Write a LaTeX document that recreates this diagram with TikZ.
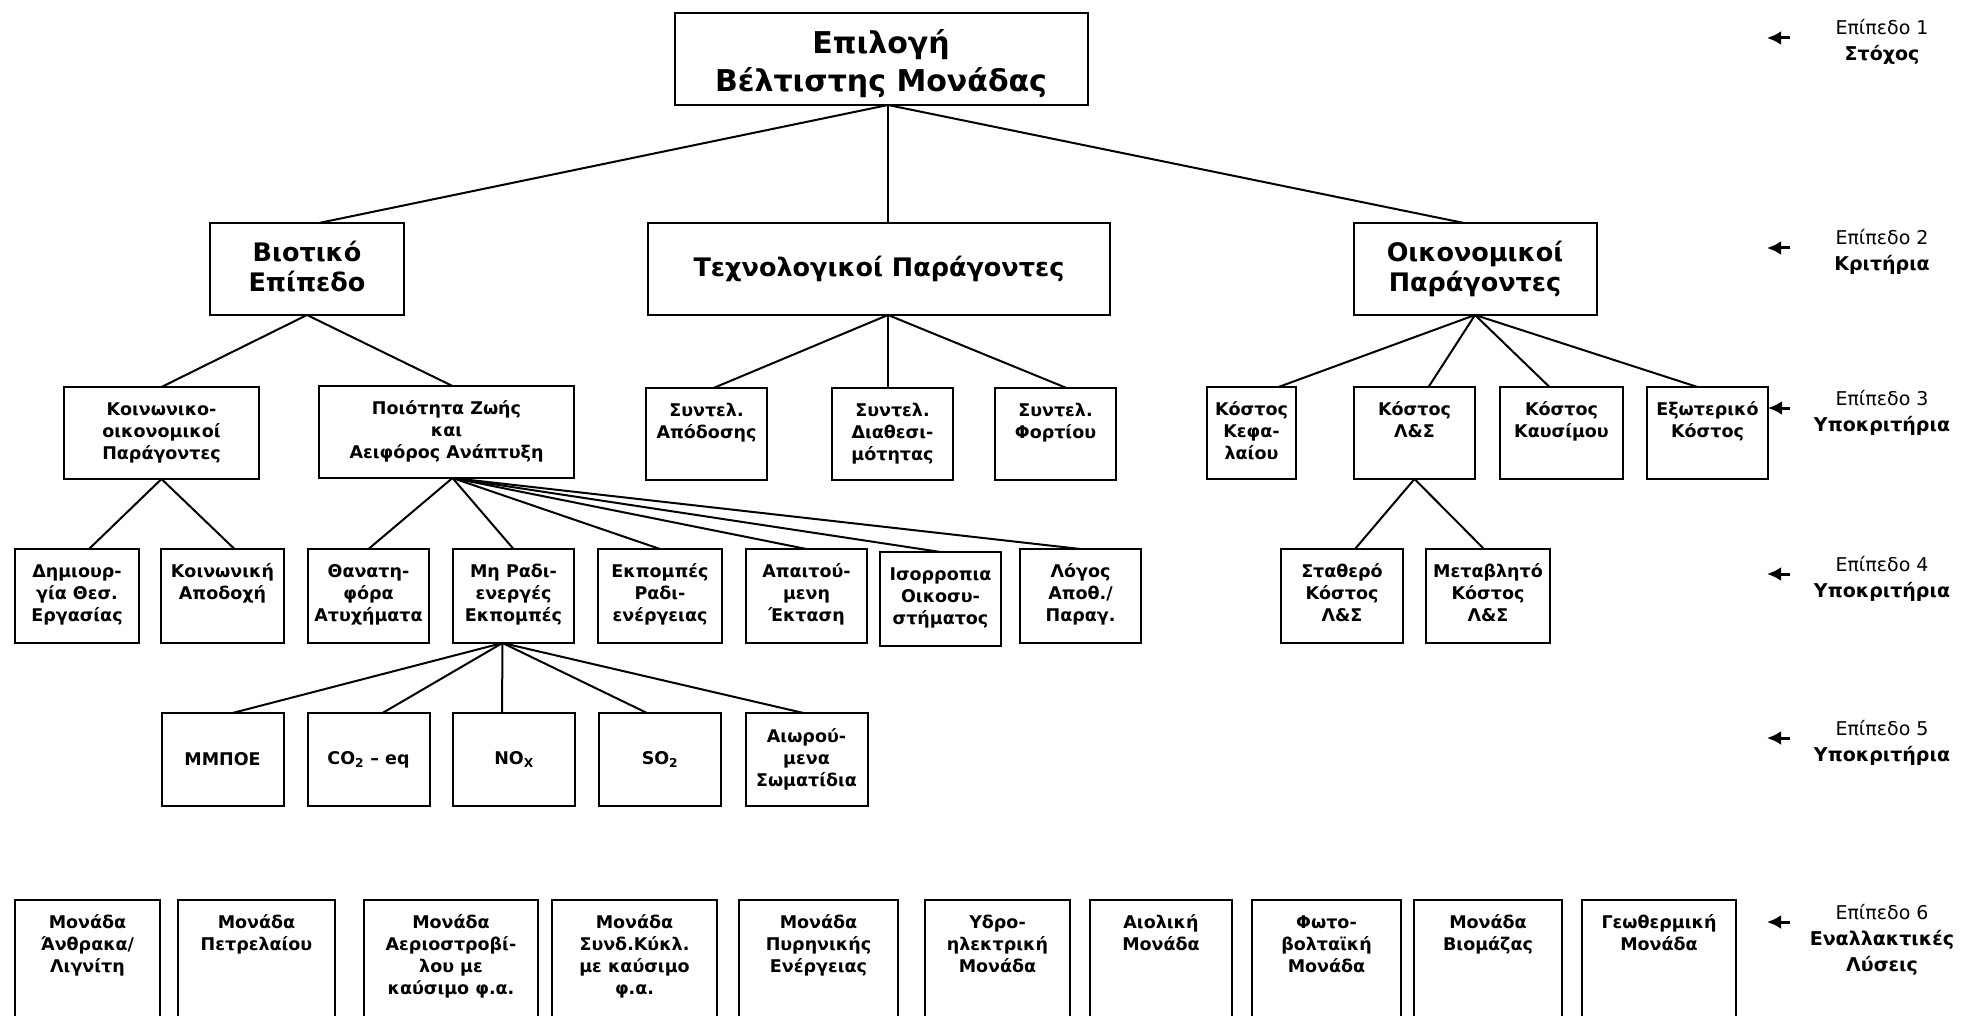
\documentclass[tikz,border=0pt]{standalone}
\usepackage{fontspec}
\setmainfont{DejaVu Sans}
\usepackage{tikz}
\usetikzlibrary{arrows.meta,calc}

% lines of a box, first line on the baseline
\newcommand{\rows}[1]{\begin{tabular}[t]{@{}c@{}}#1\end{tabular}}

\tikzset{
  box/.style={draw, line width=2pt, align=center, anchor=north, outer sep=0pt, inner xsep=2pt},
  goalbox/.style={box, font=\bfseries\fontsize{30}{38}\selectfont, inner ysep=0pt, text height=79pt, text depth=13pt},
  critbox/.style={box, font=\bfseries\fontsize{25.5}{29}\selectfont, minimum height=92pt},
  twoline/.style={inner ysep=0pt, text height=68pt, text depth=24pt},
  subbox/.style={box, font=\bfseries\fontsize{17.5}{22}\selectfont, text height=13pt, inner ysep=15pt},
  midbox/.style={box, font=\bfseries\fontsize{17.5}{22}\selectfont, minimum height=93pt, minimum width=122pt},
  lvl/.style={font=\fontsize{19}{26}\selectfont, anchor=base},
  lvlarrow/.style={line width=3pt, -{Latex[length=14pt,width=14pt]}},
  link/.style={line width=2pt}
}

\begin{document}
\begin{tikzpicture}[x=1pt,y=-1pt]
    \useasboundingbox (0,0) rectangle (1962,1016);

    % Level 1
    \node[goalbox, minimum width=413] (goal) at (881,13) {Επιλογή\\Βέλτιστης Μονάδας};

    % Level 2
    \node[critbox, twoline, minimum width=194] (bio) at (307,223) {Βιοτικό\\Επίπεδο};
    \node[critbox, minimum width=462] (tech) at (879,223) {Τεχνολογικοί Παράγοντες};
    \node[critbox, twoline, minimum width=243] (econ) at (1475,223) {Οικονομικοί\\Παράγοντες};

    % Level 3
    \node[subbox, minimum width=195, text depth=49pt] (koin) at (161.5,387) {\rows{Κοινωνικο-\\οικονομικοί\\Παράγοντες}};
    \node[subbox, minimum width=255, text depth=49pt] (zoi) at (446.5,386) {\rows{Ποιότητα Ζωής\\και\\Αειφόρος Ανάπτυξη}};
    \node[subbox, minimum width=121, text depth=49pt] (apod) at (706.5,388) {\rows{Συντελ.\\Απόδοσης}};
    \node[subbox, minimum width=121, text depth=49pt] (diath) at (892.5,388) {\rows{Συντελ.\\Διαθεσι-\\μότητας}};
    \node[subbox, minimum width=121, text depth=49pt] (fort) at (1055.5,388) {\rows{Συντελ.\\Φορτίου}};
    \node[subbox, minimum width=89, text depth=49pt] (kef) at (1251.5,387) {\rows{Κόστος\\Κεφα-\\λαίου}};
    \node[subbox, minimum width=121, text depth=49pt] (ls) at (1414.5,387) {\rows{Κόστος\\Λ\&Σ}};
    \node[subbox, minimum width=123, text depth=49pt] (kaus) at (1561.5,387) {\rows{Κόστος\\Καυσίμου}};
    \node[subbox, minimum width=121, text depth=49pt] (exot) at (1707.5,387) {\rows{Εξωτερικό\\Κόστος}};

    % Level 4
    \node[subbox, minimum width=124, text depth=51pt] (erg) at (77,549) {\rows{Δημιουρ-\\γία Θεσ.\\Εργασίας}};
    \node[subbox, minimum width=123, text depth=51pt] (apodoxi) at (222.5,549) {\rows{Κοινωνική\\Αποδοχή}};
    \node[subbox, minimum width=121, text depth=51pt] (atyx) at (368.5,549) {\rows{Θανατη-\\φόρα\\Ατυχήματα}};
    \node[subbox, minimum width=121, text depth=51pt] (mirad) at (513.5,549) {\rows{Μη Ραδι-\\ενεργές\\Εκπομπές}};
    \node[subbox, minimum width=124, text depth=51pt] (rad) at (660,549) {\rows{Εκπομπές\\Ραδι-\\ενέργειας}};
    \node[subbox, minimum width=121, text depth=51pt] (ekt) at (806.5,549) {\rows{Απαιτού-\\μενη\\Έκταση}};
    \node[subbox, minimum width=121, text depth=51pt] (oiko) at (940.5,552) {\rows{Ισορροπια\\Οικοσυ-\\στήματος}};
    \node[subbox, minimum width=121, text depth=51pt] (logos) at (1080.5,549) {\rows{Λόγος\\Αποθ./\\Παραγ.}};
    \node[subbox, minimum width=122, text depth=51pt] (stath) at (1342,549) {\rows{Σταθερό\\Κόστος\\Λ\&Σ}};
    \node[subbox, minimum width=124, text depth=51pt] (metav) at (1488,549) {\rows{Μεταβλητό\\Κόστος\\Λ\&Σ}};

    % Level 5
    \node[midbox] (mmpoe) at (222.5,713) {ΜΜΠΟΕ};
    \node[midbox] (co2) at (368.5,713) {CO\textsubscript{2} – eq};
    \node[midbox] (nox) at (514,713) {NO\textsubscript{X}};
    \node[midbox] (so2) at (660,713) {SO\textsubscript{2}};
    \node[midbox] (aior) at (806.5,713) {Αιωρού-\\μενα\\Σωματίδια};

    % Level 6 (alternatives)
    \node[subbox, minimum width=145, text depth=150pt] (u1) at (87.5,900) {\rows{Μονάδα\\Άνθρακα/\\Λιγνίτη}};
    \node[subbox, minimum width=157, text depth=150pt] (u2) at (256.5,900) {\rows{Μονάδα\\Πετρελαίου}};
    \node[subbox, minimum width=174, text depth=150pt] (u3) at (451,900) {\rows{Μονάδα\\Αεριοστροβί-\\λου με\\καύσιμο φ.α.}};
    \node[subbox, minimum width=165, text depth=150pt] (u4) at (634.5,900) {\rows{Μονάδα\\Συνδ.Κύκλ.\\με καύσιμο\\φ.α.}};
    \node[subbox, minimum width=159, text depth=150pt] (u5) at (818.5,900) {\rows{Μονάδα\\Πυρηνικής\\Ενέργειας}};
    \node[subbox, minimum width=145, text depth=150pt] (u6) at (997.5,900) {\rows{Υδρο-\\ηλεκτρική\\Μονάδα}};
    \node[subbox, minimum width=142, text depth=150pt] (u7) at (1161,900) {\rows{Αιολική\\Μονάδα}};
    \node[subbox, minimum width=149, text depth=150pt] (u8) at (1326.5,900) {\rows{Φωτο-\\βολταϊκή\\Μονάδα}};
    \node[subbox, minimum width=148, text depth=150pt] (u9) at (1488,900) {\rows{Μονάδα\\Βιομάζας}};
    \node[subbox, minimum width=154, text depth=150pt] (u10) at (1659,900) {\rows{Γεωθερμική\\Μονάδα}};

    % Links
    \coordinate (g) at ([xshift=7pt]goal.south);
    \draw[link] (g) -- ([xshift=12pt]bio.north);
    \draw[link] (g) -- ([xshift=9pt]tech.north);
    \draw[link] (g) -- ([xshift=-11pt]econ.north);

    \draw[link] (bio.south) -- (koin.north);
    \draw[link] (bio.south) -- ([xshift=6pt]zoi.north);
    \coordinate (t) at ([xshift=9pt]tech.south);
    \draw[link] (t) -- ([xshift=7pt]apod.north);
    \draw[link] (t) -- ([xshift=-4.5pt]diath.north);
    \draw[link] (t) -- ([xshift=11pt]fort.north);
    \draw[link] (econ.south) -- ([xshift=27pt]kef.north);
    \draw[link] (econ.south) -- ([xshift=14pt]ls.north);
    \draw[link] (econ.south) -- ([xshift=-12pt]kaus.north);
    \draw[link] (econ.south) -- ([xshift=-10pt]exot.north);

    \draw[link] (koin.south) -- ([xshift=12pt]erg.north);
    \draw[link] (koin.south) -- ([xshift=12pt]apodoxi.north);
    \coordinate (z) at ([xshift=6pt]zoi.south);
    \draw[link] (z) -- (atyx.north);
    \draw[link] (z) -- (mirad.north);
    \draw[link] (z) -- (rad.north);
    \draw[link] (z) -- (ekt.north);
    \draw[link] (z) -- (oiko.north);
    \draw[link] (z) -- (logos.north);
    \draw[link] (ls.south) -- ([xshift=13pt]stath.north);
    \draw[link] (ls.south) -- ([xshift=-4pt]metav.north);

    \coordinate (m) at ([xshift=-11pt]mirad.south);
    \draw[link] (m) -- ([xshift=10pt]mmpoe.north);
    \draw[link] (m) -- ([xshift=14pt]co2.north);
    \draw[link] (m) -- ([xshift=-12pt]nox.north);
    \draw[link] (m) -- ([xshift=-13pt]so2.north);
    \draw[link] (m) -- ([xshift=-3pt]aior.north);

    % Level labels
    \node[lvl] (l1) at (1882,35) {\rows{Επίπεδο 1\\\textbf{Στόχος}}};
    \node[lvl] (l2) at (1882,245) {\rows{Επίπεδο 2\\\textbf{Κριτήρια}}};
    \node[lvl] (l3) at (1882,405) {\rows{Επίπεδο 3\\\textbf{Υποκριτήρια}}};
    \node[lvl] (l4) at (1882,571) {\rows{Επίπεδο 4\\\textbf{Υποκριτήρια}}};
    \node[lvl] (l5) at (1882,735) {\rows{Επίπεδο 5\\\textbf{Υποκριτήρια}}};
    \node[lvl] (l6) at (1882,919) {\rows{Επίπεδο 6\\\textbf{Εναλλακτικές}\\\textbf{Λύσεις}}};

    \coordinate (t1) at (1790,38);  \coordinate (h1) at (1767,38);
    \coordinate (t2) at (1790,248); \coordinate (h2) at (1767,248);
    \coordinate (t3) at (1790,408); \coordinate (h3) at (exot.east |- t3);
    \coordinate (t4) at (1790,574); \coordinate (h4) at (1767,574);
    \coordinate (t5) at (1790,738); \coordinate (h5) at (1767,738);
    \coordinate (t6) at (1790,922); \coordinate (h6) at (1767,922);
    \draw[lvlarrow] (t1) -- (h1);
    \draw[lvlarrow] (t2) -- (h2);
    \draw[lvlarrow] (t3) -- (h3);
    \draw[lvlarrow] (t4) -- (h4);
    \draw[lvlarrow] (t5) -- (h5);
    \draw[lvlarrow] (t6) -- (h6);
\end{tikzpicture}
\end{document}
